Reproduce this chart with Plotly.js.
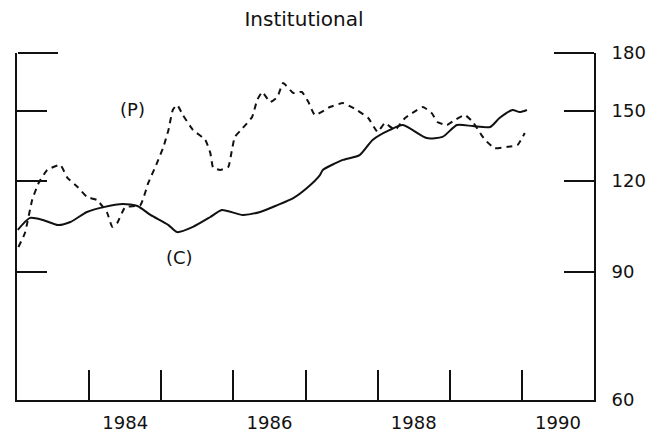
<!DOCTYPE html>
<html>
<head>
<meta charset="utf-8">
<script src="https://cdn.plot.ly/plotly-3.0.1.min.js"></script>
<style>html,body{margin:0;padding:0;background:#fff;}#chart{width:659px;height:435px;}</style>
</head>
<body>
<div id="chart"></div>
<script>
// Data (decimal years, index values, log scale)
const pYears = [1983.02,1983.11,1983.21,1983.30,1983.42,1983.60,1983.70,1983.84,1983.97,1984.11,
  1984.25,1984.32,1984.39,1984.50,1984.71,1984.82,1984.94,1985.03,1985.10,1985.16,
  1985.22,1985.30,1985.44,1985.61,1985.68,1985.72,1985.82,1985.93,1985.98,1986.02,
  1986.13,1986.26,1986.33,1986.40,1986.51,1986.61,1986.69,1986.83,1986.95,1987.04,
  1987.13,1987.34,1987.52,1987.71,1987.87,1988.00,1988.10,1988.24,1988.38,1988.48,
  1988.63,1988.75,1988.83,1988.96,1989.07,1989.21,1989.32,1989.44,1989.49,1989.62,
  1989.79,1989.94,1990.04];
const pValues = [97.4,101.8,113.0,119.3,124.3,126.3,121.2,117.8,114.1,113.0,
  108.5,103.8,105.1,110.5,111.2,119.3,127.0,133.7,141.1,150.3,
  152.7,147.9,141.1,136.7,131.2,125.1,124.3,125.5,132.4,138.0,
  141.9,147.0,155.1,159.1,154.1,156.6,163.7,158.6,159.1,154.1,
  147.9,151.7,153.6,150.3,146.5,140.2,144.2,141.1,146.5,148.8,
  151.7,148.8,144.7,143.3,145.6,147.9,144.7,138.8,136.7,133.2,
  133.7,134.5,139.7];

const cYears = [1983.01,1983.18,1983.36,1983.57,1983.74,1983.97,1984.20,1984.47,1984.67,1984.85,
  1985.10,1985.22,1985.44,1985.68,1985.84,1986.13,1986.37,1986.61,1986.83,1987.02,
  1987.20,1987.24,1987.52,1987.75,1987.93,1988.17,1988.35,1988.68,1988.90,1989.10,
  1989.32,1989.56,1989.69,1989.87,1989.97,1990.07];
const cValues = [102.8,106.8,106.1,104.4,105.4,108.8,110.5,111.6,110.9,107.8,
  104.4,102.1,103.8,107.1,109.5,107.8,108.8,111.2,113.7,117.4,
  122.3,124.3,128.3,130.3,136.7,141.1,143.3,137.5,138.0,143.3,
  142.8,142.4,146.5,150.3,149.3,150.3];

const yearTicks = [1984,1985,1986,1987,1988,1989,1990];
const yearLabelPos = [1984.5,1986.5,1988.5,1990.5];
const yearLabels = ['1984','1986','1988','1990'];
const yTickVals = [60,90,120,150,180];
const yTickText = ['60','90','120','150','180'];
const leftTickVals = [90,120,150];
const topTick = [180];
const seriesLabels = ['(P)','(C)'];

const ink = '#111';
const xRange = [1983,1991];
const yRange = [Math.log10(60), Math.log10(180)];

// helper traces (one point, lines mode -> nothing drawn) so the overlay axes get rendered
function axisHolder(xa, ya){
  return {x:[xRange[0]], y:[yTickVals[0]], type:'scatter', mode:'lines', xaxis:xa, yaxis:ya,
          line:{color:'rgba(0,0,0,0)', width:0}, hoverinfo:'skip', showlegend:false};
}

const traces = [
  {x:pYears, y:pValues, type:'scatter', mode:'lines', xaxis:'x', yaxis:'y',
   line:{color:ink, width:2, dash:'6px,5px', shape:'spline', smoothing:0.4}, hoverinfo:'skip'},
  {x:cYears, y:cValues, type:'scatter', mode:'lines', xaxis:'x', yaxis:'y',
   line:{color:ink, width:2, shape:'spline', smoothing:0.6}, hoverinfo:'skip'},
  axisHolder('x2','y2'),
  axisHolder('x','y3'),
  axisHolder('x','y4')
];

const baseY = {type:'log', range:yRange, showgrid:false, zeroline:false, fixedrange:true};

const layout = {
  width:659, height:435,
  margin:{l:17, r:65, t:53, b:35, pad:0},
  paper_bgcolor:'#fff', plot_bgcolor:'#fff',
  showlegend:false,
  font:{family:'DejaVu Sans, sans-serif', color:ink, size:18},
  title:{text:'Institutional', font:{size:20, color:ink}, x:304/659, xanchor:'center', xref:'container',
         y:1-19/435, yanchor:'middle', yref:'container'},
  xaxis:{range:xRange, tickmode:'array', tickvals:yearTicks, ticks:'inside', ticklen:30, tickwidth:2, tickcolor:ink,
         showticklabels:false, showline:true, linewidth:2, linecolor:ink, showgrid:false, zeroline:false, fixedrange:true},
  xaxis2:{overlaying:'x', anchor:'y', side:'bottom', range:xRange, tickmode:'array', tickvals:yearLabelPos, ticktext:yearLabels,
          ticks:'', showline:false, showgrid:false, zeroline:false, ticklabelstandoff:10, fixedrange:true},
  yaxis:Object.assign({}, baseY, {side:'left', anchor:'x', tickmode:'array', tickvals:leftTickVals, ticks:'inside', ticklen:30,
         tickwidth:2, tickcolor:ink, showticklabels:false, showline:true, linewidth:2, linecolor:ink}),
  yaxis2:Object.assign({}, baseY, {overlaying:'y', side:'right', anchor:'x2', tickmode:'array', tickvals:yTickVals, ticktext:yTickText,
         ticks:'inside', ticklen:30, tickwidth:2, tickcolor:ink, showline:true, linewidth:2, linecolor:ink, ticklabelstandoff:12}),
  // longer top ticks: outside ticks of free axes sitting on the opposite edges, pointing into the plot
  yaxis3:Object.assign({}, baseY, {overlaying:'y', side:'right', anchor:'free', position:0, tickmode:'array', tickvals:topTick,
         ticks:'outside', ticklen:40, tickwidth:2, tickcolor:ink, showticklabels:false, showline:false}),
  yaxis4:Object.assign({}, baseY, {overlaying:'y', side:'left', anchor:'free', position:1, tickmode:'array', tickvals:topTick,
         ticks:'outside', ticklen:40, tickwidth:2, tickcolor:ink, showticklabels:false, showline:false}),
  annotations:[
    {x:1984.60, y:Math.log10(150.3), xref:'x', yref:'y', text:seriesLabels[0], showarrow:false, font:{size:18, color:ink}},
    {x:1985.25, y:Math.log10(94.1), xref:'x', yref:'y', text:seriesLabels[1], showarrow:false, font:{size:18, color:ink}}
  ]
};

Plotly.newPlot('chart', traces, layout, {staticPlot:true, displayModeBar:false});
</script>
</body>
</html>
